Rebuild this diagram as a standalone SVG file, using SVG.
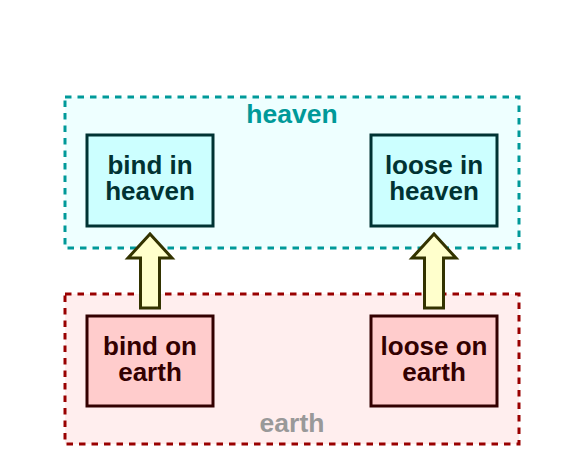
<svg xmlns="http://www.w3.org/2000/svg" width="576" height="460" viewBox="0 0 576 460">
<style>
.cl{stroke-width:3;stroke-dasharray:6.5,6}
.hv{fill:#eeffff;stroke:#009999}
.ea{fill:#ffeeee;stroke:#990000}
.nh{fill:#ccffff;stroke:#003333;stroke-width:3}
.ne{fill:#ffcccc;stroke:#330000;stroke-width:3}
text{font-family:"Liberation Sans",Arial,sans-serif;font-weight:bold;font-size:26px;text-anchor:middle}
.th{fill:#003333}
.te{fill:#330000}
.arr{fill:#ffffcc;stroke:#333300;stroke-width:3;stroke-linejoin:miter}
</style>
<rect width="576" height="460" fill="#ffffff"/>
<g id="cluster_heaven">
<rect class="cl hv" x="65" y="97" width="454" height="151"/>
<text x="292" y="123" style="fill:#009999;font-size:26.5px">heaven</text>
</g>
<g id="cluster_earth">
<rect class="cl ea" x="65" y="294" width="454" height="150"/>
<text x="292" y="432" style="fill:#999999;font-size:26.5px">earth</text>
</g>
<g id="bind_heaven">
<rect class="nh" x="87" y="135" width="126" height="91"/>
<text class="th" x="150" y="173.5">bind in</text>
<text class="th" x="150" y="199.5">heaven</text>
</g>
<g id="loose_heaven">
<rect class="nh" x="371" y="135" width="126" height="91"/>
<text class="th" x="434" y="173.5">loose in</text>
<text class="th" x="434" y="199.5">heaven</text>
</g>
<g id="bind_earth">
<rect class="ne" x="87" y="316" width="126" height="90"/>
<text class="te" x="150" y="355">bind on</text>
<text class="te" x="150" y="381">earth</text>
</g>
<g id="loose_earth">
<rect class="ne" x="371" y="316" width="126" height="90"/>
<text class="te" x="434" y="355">loose on</text>
<text class="te" x="434" y="381">earth</text>
</g>
<g id="connectors">
<polygon class="arr" points="140.5,308 159.5,308 159.5,258 172,258 150,234 128,258 140.5,258"/>
<polygon class="arr" points="424.5,308 443.5,308 443.5,258 456,258 434,234 412,258 424.5,258"/>
</g>
</svg>
